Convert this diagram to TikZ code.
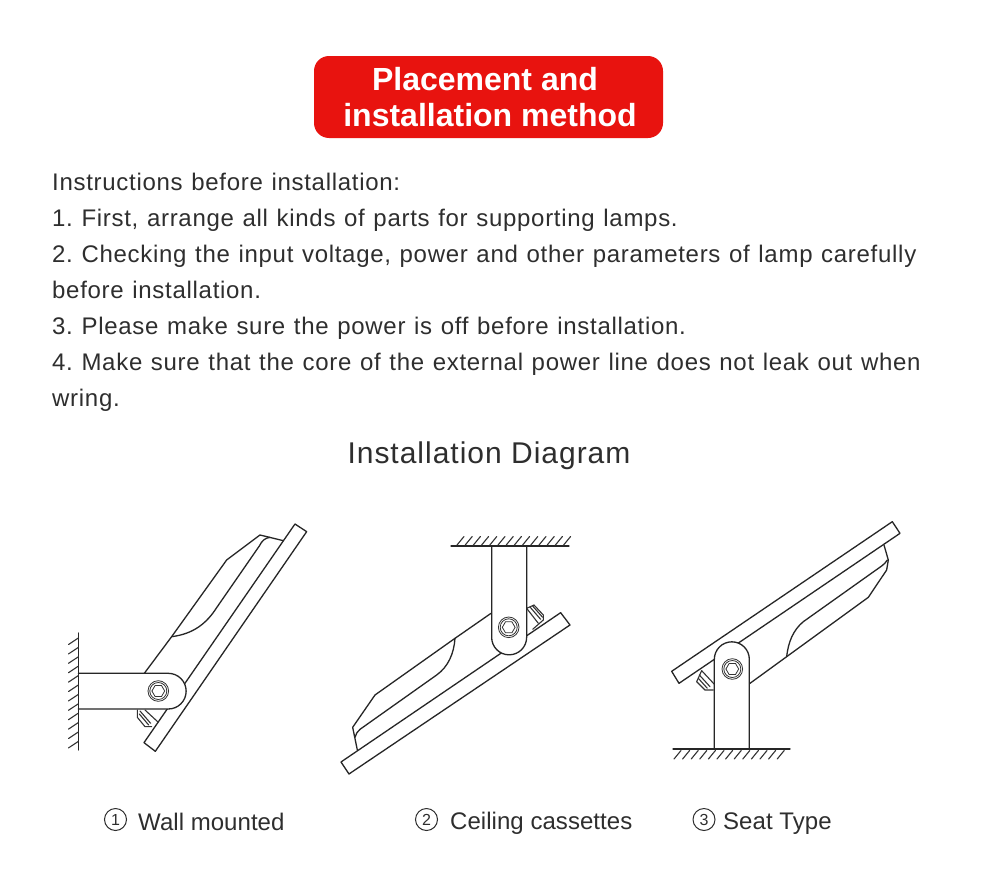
\documentclass[tikz,border=0pt]{standalone}
\usepackage{fontspec}
\setmainfont{Liberation Sans}
\newfontfamily\bodyfont[LetterSpace=2.95,WordSpace=1.17]{Liberation Sans}
\newfontfamily\headfont[LetterSpace=3.3]{Liberation Sans}
\newfontfamily\capfont[LetterSpace=0.2]{Liberation Sans}
\definecolor{ink}{HTML}{2E2E2E}
\definecolor{banner}{HTML}{E8130F}
\tikzset{
  bodytext/.style={anchor=base west,inner sep=0pt,text=ink,font=\bodyfont\frenchspacing\fontsize{24}{24}\selectfont},
  captext/.style={anchor=base west,inner sep=0pt,text=ink,font=\capfont\fontsize{24}{24}\selectfont},
  linedraw/.style={draw=black!85,line width=1.3pt,line join=round,line cap=round},
  thin part/.style={draw=black!80,line width=1.1pt,line cap=round},
  bolt part/.style={draw=black!80,line width=0.8pt},
  armfill/.style={linedraw,fill=white},
  numring/.style={circle,draw=ink,line width=1pt,minimum size=22pt,inner sep=0pt,text=ink,font=\fontsize{16}{16}\selectfont}
}
% hex bolt: centre
\newcommand{\hexbolt}[2]{%
  \draw[bolt part] (#1,#2) circle (10.3);
  \draw[bolt part] (#1,#2) circle (8.5);
  \draw[bolt part] (#1+6.4,#2) -- (#1+3.2,#2+5.5) -- (#1-3.2,#2+5.5) -- (#1-6.4,#2) -- (#1-3.2,#2-5.5) -- (#1+3.2,#2-5.5) -- cycle;
}
\begin{document}
\begin{tikzpicture}[x=1pt,y=-1pt]
\useasboundingbox (0,0) rectangle (1000,886);
\fill[white] (0,0) rectangle (1000,886);
% banner
\node[fill=banner,rounded corners=15pt,minimum width=349pt,minimum height=82pt,inner sep=0pt,anchor=center] (banner) at (488.5,97) {};
\node[anchor=base,inner sep=0pt,text=white,font=\bfseries\fontsize{32}{32}\selectfont] (t1) at (485,90) {Placement and};
\node[anchor=base,inner sep=0pt,text=white,font=\bfseries\fontsize{32}{32}\selectfont] (t2) at (490,126) {installation method};
% body text
\node[bodytext] (l1) at (52,190) {Instructions before installation:};
\node[bodytext] (l2) at (52,226) {1. First, arrange all kinds of parts for supporting lamps.};
\node[bodytext] (l3) at (52,262) {2. Checking the input voltage, power and other parameters of lamp carefully};
\node[bodytext] (l4) at (52,298) {before installation.};
\node[bodytext] (l5) at (52,334) {3. Please make sure the power is off before installation.};
\node[bodytext] (l6) at (52,370) {4. Make sure that the core of the external power line does not leak out when};
\node[bodytext] (l7) at (52,406) {wring.};
\node[anchor=base,inner sep=0pt,text=ink,font=\headfont\fontsize{30}{30}\selectfont] (h) at (489,463) {Installation Diagram};
% captions
\node[numring] (n1) at (115.5,819.5) {1};
\node[captext] (c1) at (138,830) {Wall mounted};
\node[numring] (n2) at (426.5,819.5) {2};
\node[captext] (c2) at (450,829) {Ceiling cassettes};
\node[numring] (n3) at (704,819.5) {3};
\node[captext] (c3) at (723,829) {Seat Type};

% ---------- figure 1: wall ----------
\begin{scope}[shift={(50,510)},x=0.3333pt,y=-0.3333pt]
\draw[linedraw] (735,42) -- (770,65) -- (316,724) -- (282,698) -- cycle;
\draw[linedraw] (283,490) -- (365,380) -- (530,150) -- (630,75) -- (700,92);
\draw[linedraw] (365,380) .. controls (430,372) and (470,340) .. (500,293) -- (628,108) .. controls (636,92) and (645,84) .. (660,82);
% screw
\draw[thin part] (262,600) -- (262,622) -- (285,650) -- (305,650);
\draw[thin part] (270,603) -- (302,640);
\draw[thin part] (285,600) -- (325,637);
\draw[thin part] (268,612) -- (296,645);
\draw[armfill] (85,490) -- (355,490) arc[start angle=-90,end angle=90,radius=53.5] -- (85,597);
\end{scope}
\hexbolt{158.3}{691}
\draw[linedraw] (78.3,633) -- (78.3,750);
\foreach \y in {638,647.4,...,750}{\draw[thin part] (78.3,\y) -- (68.5,\y+6.5);}

% ---------- figure 2: ceiling ----------
\begin{scope}[shift={(330,520)},x=0.3333pt,y=-0.3333pt]
\draw[linedraw] (692,278) -- (720,315) -- (57,762) -- (33,726) -- cycle;
\draw[linedraw] (483,280) -- (375,355) -- (135,525) -- (68,622) -- (82,690);
\draw[linedraw] (375,355) .. controls (372,400) and (355,440) .. (320,465) -- (90,628) .. controls (82,634) and (78,642) .. (75,652);
% screw
\draw[thin part] (590,265) -- (612,255) -- (640,285) -- (640,300) -- (608,328);
\draw[thin part] (600,261) -- (632,298);
\draw[thin part] (608,258) -- (638,292);
\draw[thin part] (590,265) -- (625,310);
\draw[armfill] (485,80) -- (485,352) arc[start angle=180,end angle=0,radius=52.5] -- (590,80);
\end{scope}
\hexbolt{508.7}{627.3}
\draw[linedraw] (451,546) -- (569,546);
\foreach \x in {457,465.2,...,569}{\draw[thin part] (\x,545) -- (\x+7,536.5);}

% ---------- figure 3: seat ----------
\begin{scope}[shift={(660,510)},x=0.3333pt,y=-0.3333pt]
\draw[linedraw] (697,35) -- (720,70) -- (57,520) -- (35,484) -- cycle;
\draw[linedraw] (672,105) -- (685,150) -- (680,180) -- (625,262) -- (270,520);
\draw[linedraw] (380,440) .. controls (385,395) and (400,360) .. (430,335) -- (665,168) .. controls (672,163) and (677,158) .. (682,150);
% screw
\draw[thin part] (125,482) -- (110,515) -- (135,540) -- (160,540);
\draw[thin part] (118,495) -- (150,530);
\draw[thin part] (115,505) -- (142,535);
\draw[thin part] (125,482) -- (165,525);
\draw[armfill] (163,716) -- (163,448) arc[start angle=180,end angle=360,radius=52.5] -- (268,716);
\end{scope}
\hexbolt{732.3}{669}
\draw[linedraw] (673,749) -- (790,749);
\foreach \x in {681,689.6,...,785}{\draw[thin part] (\x,750.5) -- (\x-7,759);}
\end{tikzpicture}
\end{document}
